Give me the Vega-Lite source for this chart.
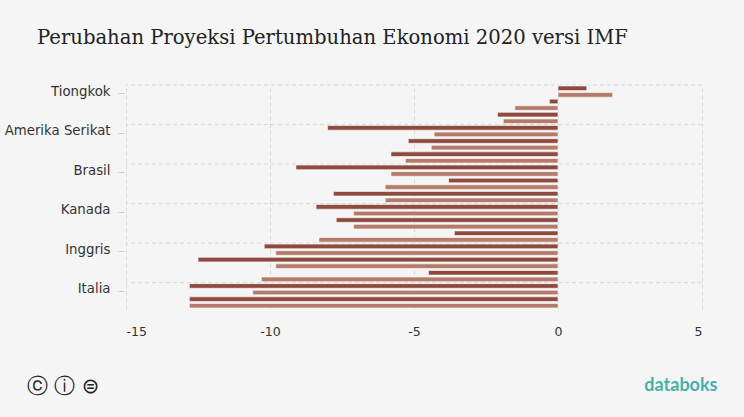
{
  "$schema": "https://vega.github.io/schema/vega-lite/v6.json",
  "description": "Perubahan Proyeksi Pertumbuhan Ekonomi 2020 versi IMF",
  "width": 576,
  "height": 224,
  "autosize": {"type": "none"},
  "padding": {"left": 126, "top": 85, "right": 42, "bottom": 108},
  "background": "#f5f5f5",
  "config": {"view": {"stroke": null}},
  "title": {
    "text": "Perubahan Proyeksi Pertumbuhan Ekonomi 2020 versi IMF",
    "anchor": "start",
    "frame": "group",
    "dx": -89,
    "offset": 20,
    "baseline": "alphabetic",
    "font": "DejaVu Serif",
    "fontSize": 19.6,
    "fontWeight": "normal",
    "color": "#222222"
  },
  "data": {
    "values": [
      {"country": "Tiongkok", "series": "Juni 2020", "value": 1.0},
      {"country": "Tiongkok", "series": "Oktober 2020", "value": 1.9},
      {"country": "Indonesia", "series": "Juni 2020", "value": -0.3},
      {"country": "Indonesia", "series": "Oktober 2020", "value": -1.5},
      {"country": "Korea Selatan", "series": "Juni 2020", "value": -2.1},
      {"country": "Korea Selatan", "series": "Oktober 2020", "value": -1.9},
      {"country": "Amerika Serikat", "series": "Juni 2020", "value": -8.0},
      {"country": "Amerika Serikat", "series": "Oktober 2020", "value": -4.3},
      {"country": "Dunia", "series": "Juni 2020", "value": -5.2},
      {"country": "Dunia", "series": "Oktober 2020", "value": -4.4},
      {"country": "Jepang", "series": "Juni 2020", "value": -5.8},
      {"country": "Jepang", "series": "Oktober 2020", "value": -5.3},
      {"country": "Brasil", "series": "Juni 2020", "value": -9.1},
      {"country": "Brasil", "series": "Oktober 2020", "value": -5.8},
      {"country": "Malaysia", "series": "Juni 2020", "value": -3.8},
      {"country": "Malaysia", "series": "Oktober 2020", "value": -6.0},
      {"country": "Jerman", "series": "Juni 2020", "value": -7.8},
      {"country": "Jerman", "series": "Oktober 2020", "value": -6.0},
      {"country": "Kanada", "series": "Juni 2020", "value": -8.4},
      {"country": "Kanada", "series": "Oktober 2020", "value": -7.1},
      {"country": "Thailand", "series": "Juni 2020", "value": -7.7},
      {"country": "Thailand", "series": "Oktober 2020", "value": -7.1},
      {"country": "Filipina", "series": "Juni 2020", "value": -3.6},
      {"country": "Filipina", "series": "Oktober 2020", "value": -8.3},
      {"country": "Inggris", "series": "Juni 2020", "value": -10.2},
      {"country": "Inggris", "series": "Oktober 2020", "value": -9.8},
      {"country": "Prancis", "series": "Juni 2020", "value": -12.5},
      {"country": "Prancis", "series": "Oktober 2020", "value": -9.8},
      {"country": "India", "series": "Juni 2020", "value": -4.5},
      {"country": "India", "series": "Oktober 2020", "value": -10.3},
      {"country": "Italia", "series": "Juni 2020", "value": -12.8},
      {"country": "Italia", "series": "Oktober 2020", "value": -10.6},
      {"country": "Spanyol", "series": "Juni 2020", "value": -12.8},
      {"country": "Spanyol", "series": "Oktober 2020", "value": -12.8}
    ]
  },
  "layer": [
    {
      "transform": [
        {"filter": {"field": "series", "equal": "Juni 2020"}},
        {"filter": {"field": "country", "oneOf": ["Tiongkok", "Amerika Serikat", "Brasil", "Kanada", "Inggris", "Italia"]}}
      ],
      "mark": {"type": "rule", "color": "#d9d9d9", "strokeDash": [4, 3], "strokeWidth": 1},
      "encoding": {
        "y": {"field": "country", "type": "nominal", "bandPosition": 0}
      }
    },
    {
      "mark": {"type": "bar", "stroke": "#ffffff", "strokeWidth": 1, "strokeOpacity": 0.6},
      "encoding": {
        "y": {
          "field": "country",
          "type": "nominal",
          "scale": {
            "domain": ["Tiongkok", "Indonesia", "Korea Selatan", "Amerika Serikat", "Dunia", "Jepang", "Brasil", "Malaysia", "Jerman", "Kanada", "Thailand", "Filipina", "Inggris", "Prancis", "India", "Italia", "Spanyol"],
            "paddingInner": 0,
            "paddingOuter": 0
          },
          "axis": {
            "values": ["Tiongkok", "Amerika Serikat", "Brasil", "Kanada", "Inggris", "Italia"],
            "bandPosition": 0.65,
            "domain": false,
            "grid": false,
            "ticks": true,
            "tickColor": "#cccccc",
            "tickSize": 6,
            "offset": 2,
            "labelPadding": 8,
            "labelFont": "DejaVu Sans",
            "labelFontSize": 13.3,
            "labelColor": "#333333",
            "title": "ⓒ ⓘ ⊜",
            "titleAngle": 0,
            "titleX": -98,
            "titleY": 307,
            "titleAlign": "left",
            "titleBaseline": "alphabetic",
            "titleFont": "DejaVu Sans",
            "titleFontSize": 21,
            "titleFontWeight": "normal",
            "titleColor": "#222222"
          }
        },
        "yOffset": {
          "field": "series",
          "type": "nominal",
          "sort": ["Juni 2020", "Oktober 2020"],
          "scale": {"paddingInner": 0.3, "paddingOuter": 0.15}
        },
        "x": {
          "field": "value",
          "type": "quantitative",
          "scale": {"domain": [-15, 5], "nice": false},
          "axis": {
            "values": [-15, -10, -5, 0, 5],
            "labelExpr": "toString(datum.value)",
            "grid": true,
            "gridDash": [4, 3],
            "gridColor": "#d9d9d9",
            "domain": false,
            "ticks": false,
            "labelPadding": 16,
            "labelFont": "DejaVu Sans",
            "labelFontSize": 12.5,
            "labelColor": "#333333",
            "title": "databoks",
            "titleX": 591,
            "titleY": 81,
            "titleAlign": "right",
            "titleBaseline": "alphabetic",
            "titleFont": "Lato",
            "titleFontSize": 18,
            "titleFontWeight": "bold",
            "titleColor": "#46b1ab"
          }
        },
        "color": {
          "field": "series",
          "type": "nominal",
          "sort": ["Juni 2020", "Oktober 2020"],
          "scale": {"range": ["#8e4a3f", "#b47b6a"]},
          "legend": null
        }
      }
    }
  ]
}
